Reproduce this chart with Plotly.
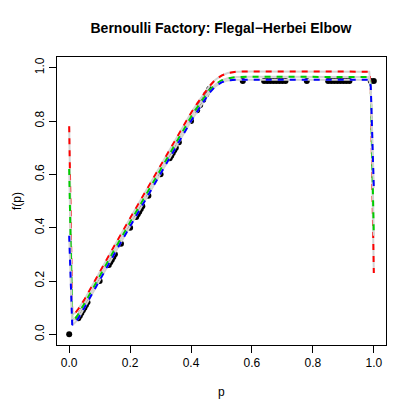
import plotly.graph_objects as go

# grid where the approximating curves were read off
p_grid = [0, 0.01, 0.02, 0.03, 0.05, 0.1, 0.15, 0.2, 0.25, 0.3, 0.35, 0.4,
          0.42, 0.44, 0.46, 0.48, 0.5, 0.52, 0.55, 0.6, 0.7, 0.8, 0.9,
          0.97, 0.985, 0.99, 1.0]

red_fp = [0.78, 0.075, 0.08, 0.095, 0.13, 0.235, 0.335, 0.435, 0.535, 0.635,
          0.735, 0.83, 0.865, 0.9, 0.93, 0.955, 0.97, 0.98, 0.985, 0.986,
          0.986, 0.986, 0.986, 0.986, 0.985, 0.93, 0.23]
green_fp = [0.62, 0.05, 0.06, 0.075, 0.115, 0.22, 0.32, 0.42, 0.52, 0.62,
            0.72, 0.815, 0.85, 0.885, 0.915, 0.937, 0.952, 0.96, 0.965, 0.966,
            0.966, 0.966, 0.966, 0.966, 0.965, 0.93, 0.37]
blue_fp = [0.37, 0.035, 0.045, 0.06, 0.1, 0.205, 0.305, 0.405, 0.505, 0.605,
           0.705, 0.8, 0.835, 0.87, 0.905, 0.93, 0.945, 0.952, 0.955, 0.955,
           0.955, 0.955, 0.955, 0.955, 0.955, 0.93, 0.55]

# sampled elbow points
pts_p = [0, 0.03, 0.035, 0.04, 0.045, 0.05, 0.055, 0.06, 0.1, 0.13, 0.135,
         0.14, 0.145, 0.15, 0.17, 0.2, 0.22, 0.225, 0.23, 0.235, 0.24, 0.26,
         0.3, 0.33, 0.335, 0.34, 0.345, 0.35, 0.36, 0.4, 0.42, 0.43, 0.44,
         0.45, 0.46, 0.57, 0.64, 0.65, 0.66, 0.67, 0.68, 0.69, 0.7, 0.71,
         0.78, 0.85, 0.86, 0.87, 0.88, 0.89, 0.9, 0.91, 0.92, 0.99, 1.0]
pts_fp = [0, 0.06, 0.07, 0.08, 0.09, 0.1, 0.11, 0.12, 0.2, 0.26, 0.27,
          0.28, 0.29, 0.3, 0.34, 0.4, 0.44, 0.45, 0.46, 0.47, 0.48, 0.52,
          0.6, 0.66, 0.67, 0.68, 0.69, 0.7, 0.72, 0.8, 0.84, 0.86, 0.88,
          0.9, 0.92, 0.95, 0.95, 0.95, 0.95, 0.95, 0.95, 0.95, 0.95, 0.95,
          0.95, 0.95, 0.95, 0.95, 0.95, 0.95, 0.95, 0.95, 0.95, 0.95, 0.95]

fig = go.Figure()

fig.add_trace(go.Scatter(x=pts_p, y=pts_fp, mode="markers",
                         marker=dict(color="black", size=6)))

for fp, col in [(red_fp, "red"), (green_fp, "#00cd00"), (blue_fp, "blue")]:
    fig.add_trace(go.Scatter(x=p_grid, y=fp, mode="lines",
                             line=dict(color="#d3d3d3", width=2)))
    fig.add_trace(go.Scatter(x=p_grid, y=fp, mode="lines",
                             line=dict(color=col, width=2, dash="6px,6px")))

axis_style = dict(
    range=[-0.04, 1.04], showgrid=False, zeroline=False,
    showline=True, mirror=True, linecolor="black", linewidth=1,
    ticks="outside", ticklen=7, tickcolor="black",
    tickvals=[0, 0.2, 0.4, 0.6, 0.8, 1.0],
    ticktext=["0.0", "0.2", "0.4", "0.6", "0.8", "1.0"],
    tickfont=dict(size=12, color="black"),
)

# page has an 8px body margin, so the figure is a bit smaller than the window
fig.update_layout(
    width=407, height=407,
    margin=dict(l=49, r=29, t=49, b=70),
    paper_bgcolor="white", plot_bgcolor="white",
    font=dict(family="Liberation Sans, Arial, sans-serif", color="black"),
    showlegend=False,
    title=dict(text="<b>Bernoulli Factory: Flegal−Herbei Elbow</b>",
               x=213 / 407, xanchor="center", y=1 - 20 / 407, yanchor="middle",
               font=dict(size=14)),
    xaxis=axis_style,
    yaxis=dict(axis_style, tickangle=-90),
    annotations=[
        dict(text="p", xref="paper", yref="paper", x=0.5, y=-47 / 288,
             yanchor="middle", showarrow=False, font=dict(size=12)),
        dict(text="f(p)", xref="paper", yref="paper", x=-40 / 329, y=0.5,
             xanchor="center", textangle=-90, showarrow=False,
             font=dict(size=12)),
    ],
)

fig.write_html("out.html")
